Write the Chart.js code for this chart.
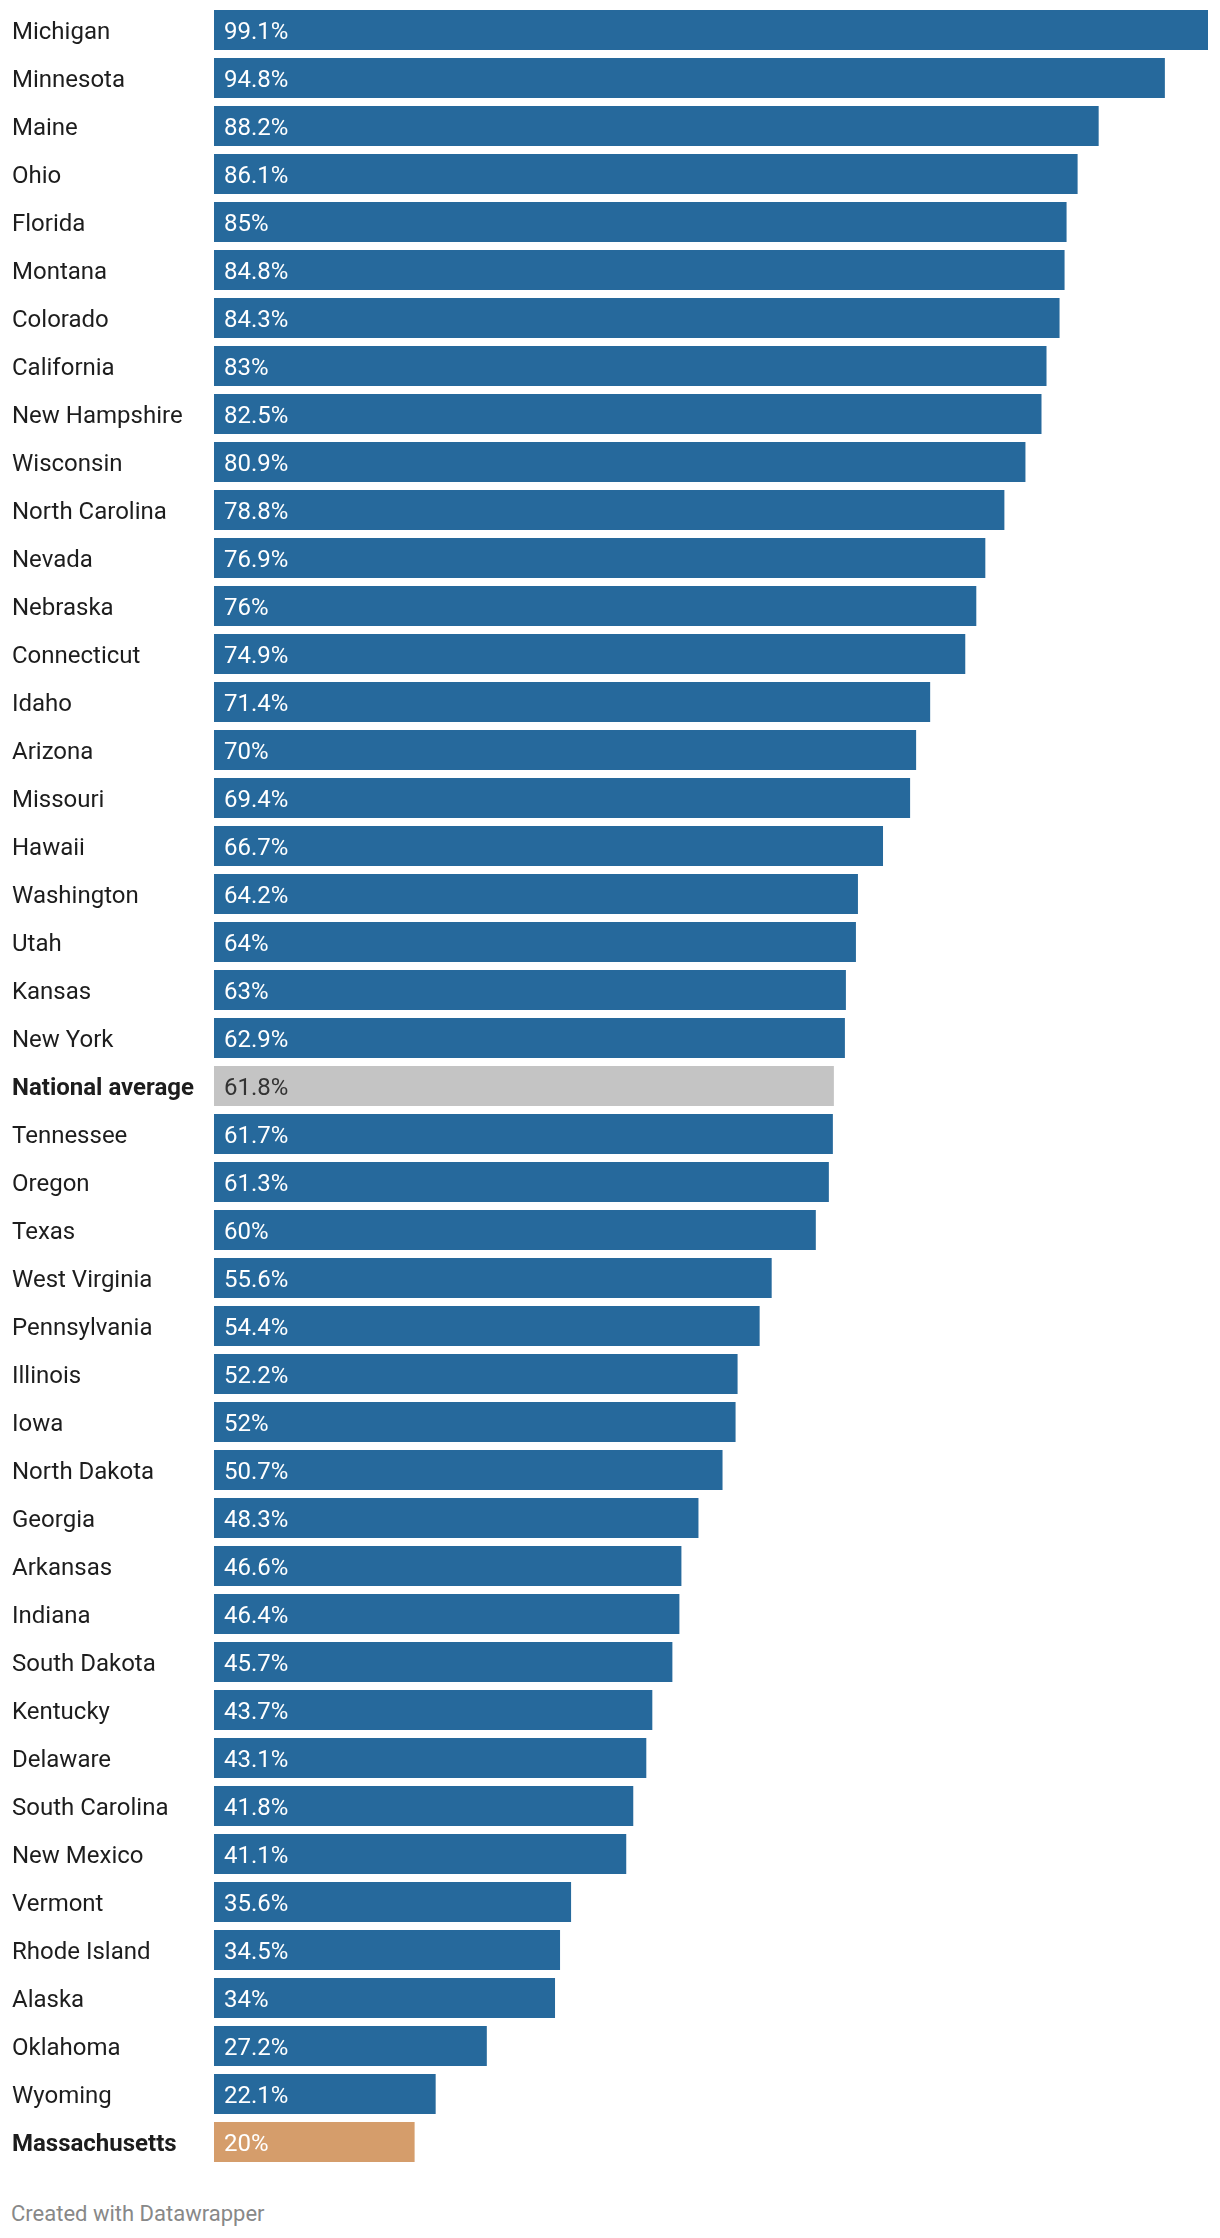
<!DOCTYPE html>
<html>
<head>
<meta charset="utf-8">
<script src="https://cdn.jsdelivr.net/npm/chart.js@4.4.1/dist/chart.umd.min.js"></script>
<style>
  body { margin: 0; background: #fff; font-family: Roboto, sans-serif; }
  #wrap { position: relative; width: 1220px; height: 2172px; }
  #footer { position: absolute; left: 11px; top: 2201px; font-size: 22px; color: #888; }
</style>
</head>
<body>
<div id="wrap"><canvas id="myChart"></canvas></div>
<div id="footer">Created with Datawrapper</div>
<script>
const states = [
  'Michigan', 'Minnesota', 'Maine', 'Ohio', 'Florida', 'Montana', 'Colorado', 'California',
  'New Hampshire', 'Wisconsin', 'North Carolina', 'Nevada', 'Nebraska', 'Connecticut', 'Idaho',
  'Arizona', 'Missouri', 'Hawaii', 'Washington', 'Utah', 'Kansas', 'New York', 'National average',
  'Tennessee', 'Oregon', 'Texas', 'West Virginia', 'Pennsylvania', 'Illinois', 'Iowa',
  'North Dakota', 'Georgia', 'Arkansas', 'Indiana', 'South Dakota', 'Kentucky', 'Delaware',
  'South Carolina', 'New Mexico', 'Vermont', 'Rhode Island', 'Alaska', 'Oklahoma', 'Wyoming',
  'Massachusetts'
];
const rates = [
  99.1, 94.8, 88.2, 86.1, 85, 84.8, 84.3, 83,
  82.5, 80.9, 78.8, 76.9, 76, 74.9, 71.4,
  70, 69.4, 66.7, 64.2, 64, 63, 62.9, 61.8,
  61.7, 61.3, 60, 55.6, 54.4, 52.2, 52,
  50.7, 48.3, 46.6, 46.4, 45.7, 43.7, 43.1,
  41.8, 41.1, 35.6, 34.5, 34, 27.2, 22.1,
  20
];
const highlighted = ['National average', 'Massachusetts'];

const BLUE = '#26699c';
const GREY = '#c4c4c4';
const ORANGE = '#d59d6b';

function barColor(name) {
  if (name === 'National average') return GREY;
  if (name === 'Massachusetts') return ORANGE;
  return BLUE;
}

// write the value inside each bar, near its left end
const valueLabels = {
  id: 'valueLabels',
  afterDatasetsDraw(chart) {
    const ctx = chart.ctx;
    const meta = chart.getDatasetMeta(0);
    ctx.save();
    ctx.font = '24px Roboto';
    ctx.textBaseline = 'middle';
    ctx.textAlign = 'left';
    meta.data.forEach((bar, i) => {
      ctx.fillStyle = states[i] === 'National average' ? '#333333' : '#ffffff';
      ctx.fillText(rates[i] + '%', bar.base + 10, bar.y + 3);
    });
    ctx.restore();
  }
};

const ctx = document.getElementById('myChart').getContext('2d');
const chart = new Chart(ctx, {
  type: 'bar',
  data: {
    labels: states,
    datasets: [{
      data: rates,
      backgroundColor: states.map(barColor),
      borderWidth: 0,
      barPercentage: 40 / 48,
      categoryPercentage: 1
    }]
  },
  options: {
    indexAxis: 'y',
    responsive: true,
    maintainAspectRatio: false,
    animation: false,
    layout: { padding: { left: 12, right: 12, top: 6, bottom: 6 } },
    plugins: {
      legend: { display: false },
      tooltip: { enabled: false }
    },
    scales: {
      x: { display: false, min: 0, max: 99.1 },
      y: {
        grid: { display: false, drawTicks: false },
        border: { display: false },
        afterFit: (scale) => {
          scale.width = 202;
          scale.paddingTop = 0;
          scale.paddingBottom = 0;
        },
        ticks: {
          crossAlign: 'far',
          padding: 0,
          labelOffset: 3,
          color: '#1d1d1d',
          font: (c) => ({
            family: 'Roboto',
            size: 24,
            weight: highlighted.includes(states[c.index]) ? 'bold' : 'normal'
          })
        }
      }
    }
  },
  plugins: [valueLabels]
});
</script>
</body>
</html>
